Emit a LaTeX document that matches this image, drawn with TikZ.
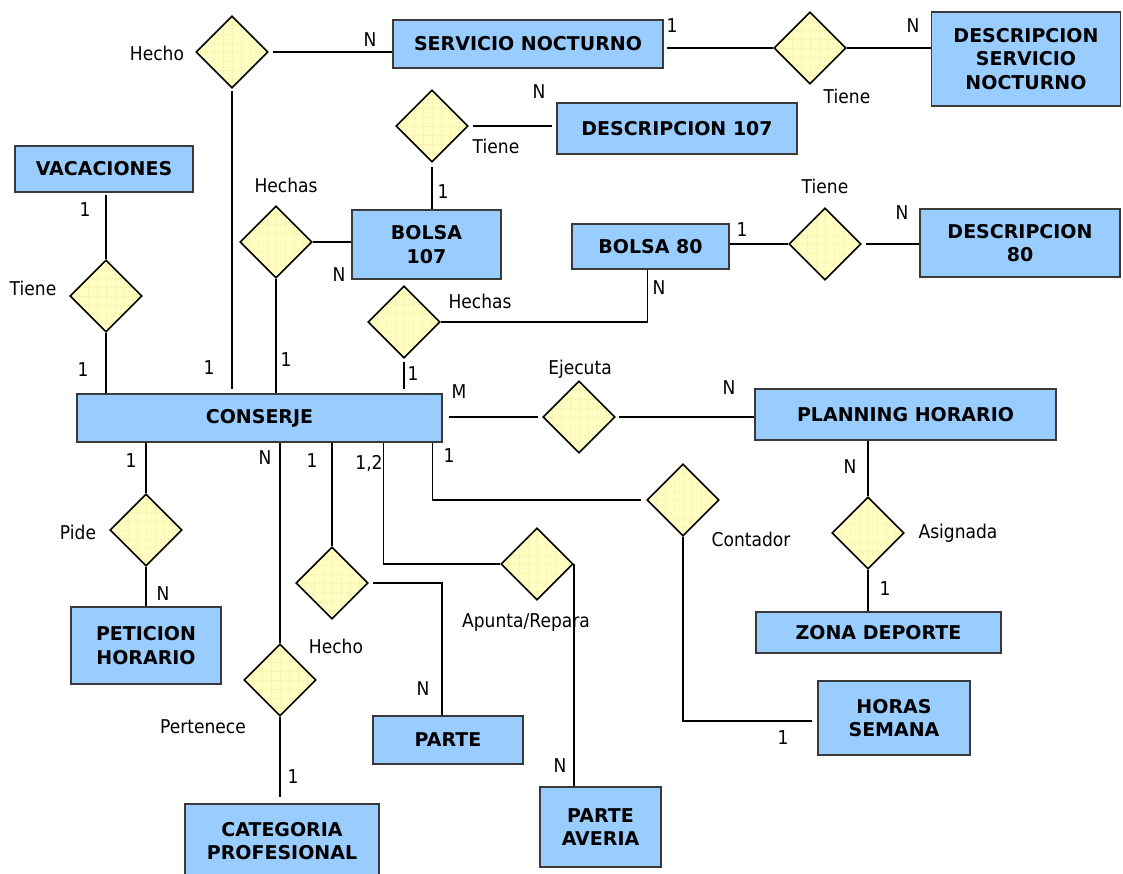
\documentclass[tikz,border=0pt]{standalone}
\usepackage{fontspec}
\setmainfont{DejaVu Sans}[FakeStretch=0.9, BoldFeatures={FakeStretch=1.0}]
\usetikzlibrary{shapes.geometric,calc}
\definecolor{entfill}{HTML}{99CCFF}
\definecolor{entdraw}{HTML}{3A3A3A}
\definecolor{relfill}{HTML}{FFFFC2}
\definecolor{relgrid}{HTML}{FAF3B4}
\begin{document}
\begin{tikzpicture}[x=1pt,y=-1pt,
  ent/.style={draw=entdraw, line width=1.1pt, fill=entfill, inner sep=0pt,
    align=center, font=\fontsize{19}{23.5}\selectfont\bfseries},
  rel/.style={diamond, aspect=1, draw=black, line width=1.6pt, fill=relfill,
    minimum width=72pt, minimum height=72pt, inner sep=0pt,
    path picture={\draw[relgrid, line width=0.6pt, step=9pt]
      (path picture bounding box.south west) grid (path picture bounding box.north east);}},
  lbl/.style={inner sep=0pt, text height=14pt, text depth=0pt,
    font=\fontsize{19}{23}\selectfont},
  link/.style={draw=black, line width=1.7pt}]
\fill[white] (0,0) rectangle (1123,873);
\useasboundingbox (0,0) rectangle (1123,873);

% entities
\node[ent, minimum width=270pt, minimum height=48pt] (sn) at (528,44) {SERVICIO NOCTURNO};
\node[ent, minimum width=189pt, minimum height=94pt] (dsn) at (1026,59) {DESCRIPCION\\SERVICIO\\NOCTURNO};
\node[ent, minimum width=240pt, minimum height=51pt] (d107) at (677,128.5) {DESCRIPCION 107};
\node[ent, minimum width=178pt, minimum height=46pt] (vac) at (104,169) {VACACIONES};
\node[ent, minimum width=149pt, minimum height=69pt] (b107) at (426.5,244.5) {BOLSA\\107};
\node[ent, minimum width=157pt, minimum height=45pt] (b80) at (650.5,246.5) {BOLSA 80};
\node[ent, minimum width=200pt, minimum height=68pt] (d80) at (1020,243) {DESCRIPCION\\80};
\node[ent, minimum width=365pt, minimum height=48pt] (cons) at (259.5,418) {CONSERJE};
\node[ent, minimum width=301pt, minimum height=51pt] (ph) at (905.5,414.5) {PLANNING HORARIO};
\node[ent, minimum width=150pt, minimum height=77pt] (pet) at (146,645.5) {PETICION\\HORARIO};
\node[ent, minimum width=150pt, minimum height=48pt] (parte) at (448,740) {PARTE};
\node[ent, minimum width=121pt, minimum height=80pt] (pa) at (600.5,827) {PARTE\\AVERIA};
\node[ent, minimum width=194pt, minimum height=74pt] (cat) at (282,841) {CATEGORIA\\PROFESIONAL};
\node[ent, minimum width=245pt, minimum height=41pt] (zd) at (878.5,632.5) {ZONA DEPORTE};
\node[ent, minimum width=152pt, minimum height=74pt] (hs) at (894,718) {HORAS\\SEMANA};

% relationships
\node[rel] (rHechoTop) at (232,52) {};
\node[rel] (rTieneSN) at (810,48) {};
\node[rel] (rTiene107) at (432,126) {};
\node[rel] (rTieneVac) at (106,296) {};
\node[rel] (rHechasL) at (276,242) {};
\node[rel] (rHechasM) at (404,322) {};
\node[rel] (rTiene80) at (825,244) {};
\node[rel] (rEjecuta) at (579,417) {};
\node[rel] (rAsignada) at (868,533) {};
\node[rel] (rContador) at (683,500) {};
\node[rel] (rPide) at (146,530) {};
\node[rel] (rPertenece) at (280,680) {};
\node[rel] (rHechoLow) at (332,583) {};
\node[rel] (rApunta) at (537,564) {};

% connectors
\draw[link, shorten <=4pt] (rHechoTop.east) -- (rHechoTop.east -| sn.west);
\draw[link, shorten <=3pt] (rTieneSN.west -| sn.east) -- (rTieneSN.west);
\draw[link] (rTieneSN.east) -- (rTieneSN.east -| dsn.west);
\draw[link, shorten <=4pt, shorten >=4pt] (rTiene107.east) -- (rTiene107.east -| d107.west);
\draw[link, shorten <=4pt] (rTiene107.south) -- (rTiene107.south |- b107.north);
\draw[link] (rHechasL.east) -- (rHechasL.east -| b107.west);
\draw[link] (rHechasL.south) -- (rHechasL.south |- cons.north);
\draw[link, shorten <=2pt] (rTieneVac.north |- vac.south) -- (rTieneVac.north);
\draw[link] (rTieneVac.south) -- (rTieneVac.south |- cons.north);
\draw[link, shorten <=2pt, shorten >=4pt] (rHechoTop.south) -- (rHechoTop.south |- cons.north);
\draw[link] (rHechasM.east) -| ([xshift=-3pt]b80.south);
\draw[link, shorten <=3pt, shorten >=4pt] (rHechasM.south) -- (rHechasM.south |- cons.north);
\draw[link] (rTiene80.west -| b80.east) -- (rTiene80.west);
\draw[link, shorten <=4pt] (rTiene80.east) -- (rTiene80.east -| d80.west);
\draw[link, shorten <=6pt, shorten >=4pt] (rEjecuta.west -| cons.east) -- (rEjecuta.west);
\draw[link, shorten <=3pt] (rEjecuta.east) -- (rEjecuta.east -| ph.west);
\draw[link] (rAsignada.north |- ph.south) -- (rAsignada.north);
\draw[link] (rAsignada.south) -- (rAsignada.south |- zd.north);
\draw[link] (rPide.north |- cons.south) -- (rPide.north);
\draw[link] (rPide.south) -- (rPide.south |- pet.north);
\draw[link] (rPertenece.north |- cons.south) -- (rPertenece.north);
\draw[link, shorten >=6pt] (rPertenece.south) -- (rPertenece.south |- cat.north);
\draw[link] (rHechoLow.north |- cons.south) -- (rHechoLow.north);
\draw[link, shorten <=4pt] (rHechoLow.east) -| ([xshift=-6pt]parte.north);
\draw[link] ($(cons.south east)+(-59,0)$) |- (rApunta.west);
\draw[link] (rApunta.east) -- (rApunta.east |- pa.north);
\draw[link, shorten >=5pt] ($(cons.south east)+(-10,0)$) |- (rContador.west);
\draw[link, shorten >=5pt] (rContador.south) |- ([yshift=-3pt]hs.west);

% relationship names and cardinalities
\node[lbl] (t1) at (157,53) {Hecho};
\node[lbl] (t2) at (370,39) {N};
\node[lbl] (t3) at (672,25) {1};
\node[lbl] (t4) at (913,25) {N};
\node[lbl] (t5) at (847,96) {Tiene};
\node[lbl] (t6) at (539,91) {N};
\node[lbl] (t7) at (496,146) {Tiene};
\node[lbl] (t8) at (443,191) {1};
\node[lbl] (t9) at (286,185) {Hechas};
\node[lbl] (t10) at (339,274) {N};
\node[lbl] (t11) at (85,209) {1};
\node[lbl] (t12) at (33,288) {Tiene};
\node[lbl] (t13) at (742,229) {1};
\node[lbl] (t14) at (825,186) {Tiene};
\node[lbl] (t15) at (902,212) {N};
\node[lbl] (t16) at (659,287) {N};
\node[lbl] (t17) at (480,301) {Hechas};
\node[lbl] (t18) at (83,369) {1};
\node[lbl] (t19) at (209,367) {1};
\node[lbl] (t20) at (286,359) {1};
\node[lbl] (t21) at (413,373) {1};
\node[lbl] (t22) at (459,391) {M};
\node[lbl] (t23) at (580,367) {Ejecuta};
\node[lbl] (t24) at (729,387) {N};
\node[lbl] (t25) at (131,460) {1};
\node[lbl] (t26) at (265,457) {N};
\node[lbl] (t27) at (312,460) {1};
\node[lbl] (t28) at (369,462) {1,2};
\node[lbl] (t29) at (449,455) {1};
\node[lbl] (t30) at (850,466) {N};
\node[lbl] (t31) at (958,531) {Asignada};
\node[lbl] (t32) at (751,539) {Contador};
\node[lbl] (t33) at (78,532) {Pide};
\node[lbl] (t34) at (163,593) {N};
\node[lbl] (t35) at (885,588) {1};
\node[lbl] (t36) at (336,646) {Hecho};
\node[lbl] (t37) at (526,620) {Apunta/Repara};
\node[lbl] (t38) at (203,726) {Pertenece};
\node[lbl] (t39) at (423,688) {N};
\node[lbl] (t40) at (293,776) {1};
\node[lbl] (t41) at (560,765) {N};
\node[lbl] (t42) at (783,737) {1};
\end{tikzpicture}
\end{document}
